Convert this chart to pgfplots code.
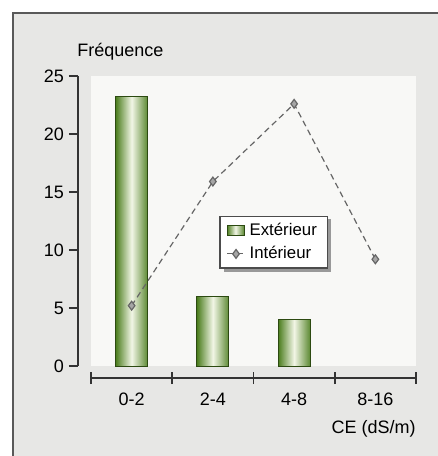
\documentclass[border=0pt]{standalone}
\usepackage{pgfplots}
\pgfplotsset{compat=1.18}
\usepackage{fontspec}
\setmainfont{Liberation Sans}
\definecolor{bgray}{HTML}{E7E7E5}
\definecolor{plotbg}{HTML}{F8F8F6}
\definecolor{gdark}{HTML}{4A7C1C}
\definecolor{glight}{HTML}{F2F6E6}
\definecolor{axcol}{HTML}{333333}
\pgfplotsset{
  mylineleg/.style={legend image code/.code={\draw[##1, mark repeat=2, mark phase=2] plot coordinates {(0pt,0pt) (4.5pt,0pt) (9pt,0pt)};}},
  mybarleg/.style={legend image code/.code={\draw[draw=gdark!60!black, line width=0.5pt, left color=gdark, right color=gdark!90, middle color=glight] (0pt,-2.3pt) rectangle (8.5pt,2.3pt);}},
}
\begin{document}
\begin{tikzpicture}[x=1pt,y=1pt]
\useasboundingbox (0,0) rectangle (219,228);
\fill[white] (0,0) rectangle (219,228);
\fill[bgray] (6.5,-2) rectangle (218.8,221.5);
\draw[black!65, line width=0.8pt] (6.5,-2) -- (6.5,221.5) -- (218.8,221.5);
% main plot area
\begin{axis}[
  at={(45.5pt,45pt)}, anchor=south west,
  scale only axis, width=162.5pt, height=145pt,
  xmin=-0.5, xmax=3.5, ymin=0, ymax=25,
  axis line style={draw=none}, ticks=none,
  axis background/.style={fill=plotbg},
  clip=false,
  legend style={name=myleg, at={(0.397,0.338)}, anchor=south west, draw=none, fill=white,
    font=\fontsize{8.4}{10}\selectfont, inner xsep=3pt, inner ysep=1pt, row sep=0pt,
    nodes={inner xsep=2pt, inner ysep=2pt}},
  legend cell align=left,
  barstyle/.style={ybar, bar width=16pt, bar shift=0pt, draw=gdark!60!black, line width=0.5pt,
    left color=gdark, right color=gdark!90, middle color=glight},
]
\addplot[barstyle, mybarleg] coordinates {(0,23.2)};
\addlegendentry{Extérieur}
\addplot[densely dashed, line width=0.6pt, color=black!60,
  mark=diamond*, mark size=2.2pt,
  mark options={solid, fill=black!35, draw=black!60}, mylineleg]
  coordinates {(0,5.2) (1,15.9) (2,22.6) (3,9.2)};
\addlegendentry{Intérieur}
\addplot[barstyle, forget plot] coordinates {(1,6)};
\addplot[barstyle, forget plot] coordinates {(2,4)};
\end{axis}
% legend frame and shadow
\draw[black!70, line width=0.6pt] (myleg.south west) rectangle (myleg.north east);
\fill[black!40] ([shift={(0.3pt,-0.3pt)}]myleg.south west) ++(1.5pt,0) rectangle ([shift={(1.8pt,-1.8pt)}]myleg.south east);
\fill[black!40] ([shift={(0.3pt,-1.5pt)}]myleg.north east) rectangle ([shift={(1.8pt,-1.8pt)}]myleg.south east);
% y axis
\begin{axis}[
  at={(39pt,45pt)}, anchor=south west,
  scale only axis, width=170pt, height=145pt,
  xmin=0, xmax=1, ymin=0, ymax=25,
  axis y line=left, axis x line=none,
  y axis line style={-, line width=0.8pt, color=axcol},
  ytick={0,5,10,15,20,25},
  tick style={line width=0.8pt, color=axcol},
  tick align=outside, major tick length=4.5pt,
  yticklabel style={font=\fontsize{9}{11}\selectfont, xshift=1pt},
  /pgf/number format/assume math mode=true,
]
\end{axis}
% x axis
\begin{axis}[
  at={(45.5pt,39pt)}, anchor=south west,
  scale only axis, width=162.5pt, height=145pt,
  xmin=-0.5, xmax=3.5, ymin=0, ymax=1,
  axis x line=bottom, axis y line=none,
  x axis line style={-, line width=0.8pt, color=axcol},
  xtick={0,1,2,3}, xticklabels={0-2,2-4,4-8,8-16},
  major tick length=0pt,
  minor xtick={-0.5,0.5,1.5,2.5,3.5},
  minor tick length=6pt, tick align=center,
  minor tick style={line width=0.8pt, color=axcol},
  xticklabel style={font=\fontsize{9}{11}\selectfont, yshift=-4pt},
]
\end{axis}
\node[anchor=south west, font=\fontsize{9}{11}\selectfont, inner sep=0pt] at (38.5,197.5) {Fréquence};
\node[anchor=base east, font=\fontsize{9}{11}\selectfont, inner sep=0pt] at (208,11.5) {CE (dS/m)};
\end{tikzpicture}
\end{document}
